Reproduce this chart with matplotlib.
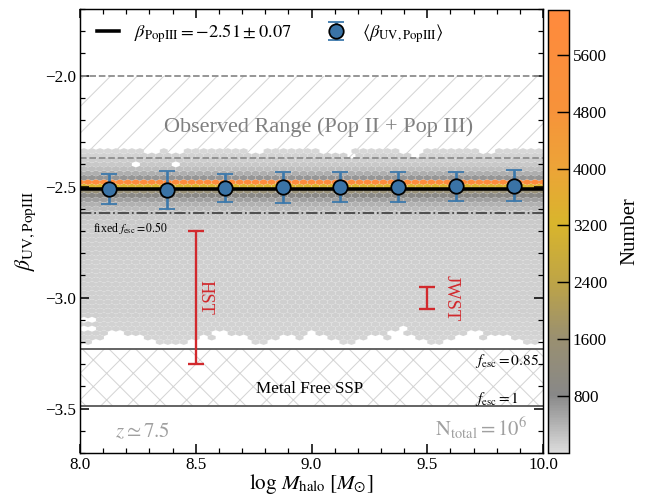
import numpy as np
import matplotlib
matplotlib.use('Agg')
import matplotlib.pyplot as plt
from matplotlib.colors import LinearSegmentedColormap
from matplotlib.ticker import MultipleLocator

plt.rcParams['font.family'] = ['Liberation Serif', 'DejaVu Serif']
plt.rcParams['mathtext.fontset'] = 'stix'
plt.rcParams['hatch.linewidth'] = 0.9

# binned mean of beta in halo mass bins
mass_bins = [8.125, 8.375, 8.625, 8.875, 9.125, 9.375, 9.625, 9.875]
beta_mean = [-2.510, -2.514, -2.506, -2.504, -2.502, -2.502, -2.499, -2.497]
beta_err = [0.068, 0.085, 0.064, 0.068, 0.066, 0.068, 0.066, 0.070]

beta_fit = -2.51
beta_fit_err = 0.07

# hexbin counts, one value per row of hexagons
# rows go from beta=-3.20 (bottom) to beta=-2.32 (top) in steps of 0.02
row_counts = [60, 80, 100, 110, 120, 120, 130, 130, 135, 135,
              135, 140, 140, 140, 140, 140, 145, 145, 145, 145,
              150, 150, 150, 160, 165, 170, 180, 190, 210, 250,
              320, 420, 600, 900, 1450, 3300, 5900, 700, 450, 300,
              210, 150, 110, 70, 0]
# empty hexagons along the ragged edges: row -> columns
row_holes = {
    0: [i for i in range(59) if i not in (0, 1, 10, 11, 12, 13, 22, 23, 33, 34, 44, 45, 56, 57)],
    1: [3, 4, 5, 6, 7, 15, 17, 18, 19, 20, 25, 26, 28, 29, 30, 36, 37, 39, 40, 41, 47, 48, 49, 51, 52, 53],
    2: [4, 5, 17, 18, 29, 39, 40, 49, 50],
    3: [0, 1, 40],
    5: [0, 1],
    40: [7, 12],
    42: [34, 42],
    43: [8, 9, 11, 12, 21, 22, 30, 31, 32, 33, 40, 41, 42, 50, 51],
}

# observational uncertainty bars
obs_names = ['HST', 'JWST']
obs_mass = [8.5, 9.5]
obs_beta = [-3.0, -3.0]
obs_err = [0.30, 0.05]
obs_text_x = [8.505, 9.565]

observed_range = [-2.37, -2.0]
fixed_fesc_beta = -2.62
fesc_high_beta = [-3.23, -3.49]   # f_esc = 0.85 and 1

cmap = LinearSegmentedColormap.from_list('graybee', [
    (0.00, '#dcdcdc'), (0.13, '#888888'), (0.26, '#9a9070'),
    (0.39, '#bfa545'), (0.52, '#d9b52c'), (0.65, '#eda338'),
    (0.78, '#f7923a'), (1.00, '#ff8a3d')])

fig = plt.figure(figsize=(651/80, 496/80), dpi=80)
ax = fig.add_axes([80/651, 43/496, 463/651, 444/496])
cax = fig.add_axes([548/651, 43/496, 21/651, 443/496])

# hexagon grid
nx, ny = 58, 22
ymin, ymax = -3.2, -2.32
sx = 2.0 / nx
sy = (ymax - ymin) / ny
hx, hy, hc = [], [], []
for k, cnt in enumerate(row_counts):
    if cnt == 0:
        continue
    off = 0.0 if k % 2 == 0 else 0.5
    ncol = nx + 1 if k % 2 == 0 else nx
    for i in range(ncol):
        if i in row_holes.get(k, []):
            continue
        hx.append(8.0 + (i + off) * sx)
        hy.append(ymin + k * sy / 2)
        hc.append(cnt)

ax.axhspan(observed_range[0], observed_range[1], facecolor='none',
           edgecolor='#d4d4d4', hatch='/', lw=0, zorder=0)
ax.axhspan(fesc_high_beta[1], fesc_high_beta[0], facecolor='none',
           edgecolor='#d4d4d4', hatch='x', lw=0, zorder=0)

hb = ax.hexbin(hx, hy, C=hc, reduce_C_function=np.sum, gridsize=(nx, ny),
               extent=(8.0, 10.0, ymin, ymax), cmap=cmap, vmin=0, vmax=6230,
               linewidths=0.5, edgecolors=(1, 1, 1, 0.12), zorder=1)

for yv in observed_range:
    ax.axhline(yv, color='#8c8c8c', ls='--', lw=1.6, zorder=2)
ax.axhline(fixed_fesc_beta, color='#444444', ls='-.', lw=1.6, zorder=2)
for yv in fesc_high_beta:
    ax.axhline(yv, color='#555555', lw=1.6, zorder=2)

ax.axhline(beta_fit, color='k', lw=3.2,
           label=r'$\beta_{\rm PopIII}=%.2f\pm%.2f$' % (beta_fit, beta_fit_err), zorder=3)
ax.errorbar(mass_bins, beta_mean, yerr=beta_err, fmt='o', ms=13,
            mfc='#3a73a6', mec='k', mew=1.6, ecolor='#3b78ab', elinewidth=2.4,
            capsize=7.3, capthick=2.4, zorder=4,
            label=r'$\langle\beta_{\rm UV,PopIII}\rangle$')

for name, m, b, e, tx in zip(obs_names, obs_mass, obs_beta, obs_err, obs_text_x):
    ax.errorbar(m, b, yerr=e, color='#d2292d', lw=2.1, capsize=7.3,
                capthick=2.1, zorder=4)
    ax.text(tx, b, name, rotation=270, color='#d2292d',
            ha='left', va='center', fontsize=16.5)

ax.text(9.03, -2.234, 'Observed Range (Pop II + Pop III)', color='#808080',
        ha='center', va='center', fontsize=20)
ax.text(8.99, -3.41, 'Metal Free SSP', ha='center', va='center', fontsize=15.4)
ax.text(8.055, -2.685, r'fixed $f_{\rm esc}=0.50$', ha='left', va='center', fontsize=10.6)
ax.text(9.706, -3.285, r'$f_{\rm esc}=0.85$', ha='left', va='center', fontsize=13.8)
ax.text(9.706, -3.455, r'$f_{\rm esc}=1$', ha='left', va='center', fontsize=13.8)
ax.text(8.15, -3.605, r'$z\simeq7.5$', color='#a0a0a0', ha='left', va='center', fontsize=18.7)
ax.text(9.93, -3.585, r'$\rm N_{total}=10^6$', color='#a0a0a0', ha='right',
        va='center', fontsize=18.7)

ax.set_xlim(8.0, 10.0)
ax.set_ylim(-3.7, -1.7)
ax.xaxis.set_major_locator(MultipleLocator(0.5))
ax.xaxis.set_minor_locator(MultipleLocator(0.1))
ax.yaxis.set_major_locator(MultipleLocator(0.5))
ax.yaxis.set_minor_locator(MultipleLocator(0.1))
ax.tick_params(which='both', direction='in', top=True, right=True, labelsize=15.4)
ax.tick_params(which='major', length=8, width=1.4)
ax.tick_params(which='minor', length=4.4, width=1.1)
for sp in ax.spines.values():
    sp.set_linewidth(1.3)
ax.set_xlabel(r'$\log\,M_{\rm halo}\;[M_{\odot}]$', fontsize=19, labelpad=-1)
ax.set_ylabel(r'$\beta_{\rm UV,PopIII}$', fontsize=19.5, labelpad=6)

ax.legend(loc='upper left', bbox_to_anchor=(0.0, 1.008), ncol=2, frameon=False,
          fontsize=16.5, columnspacing=1.8, handlelength=1.25)

cb = fig.colorbar(hb, cax=cax, ticks=np.arange(800, 6000, 800))
cb.ax.tick_params(direction='in', length=11, width=1.3, labelsize=15.4)
cb.outline.set_linewidth(1.3)
cb.set_label('Number', fontsize=18.7, labelpad=12)

fig.savefig('out.png', dpi=80)
